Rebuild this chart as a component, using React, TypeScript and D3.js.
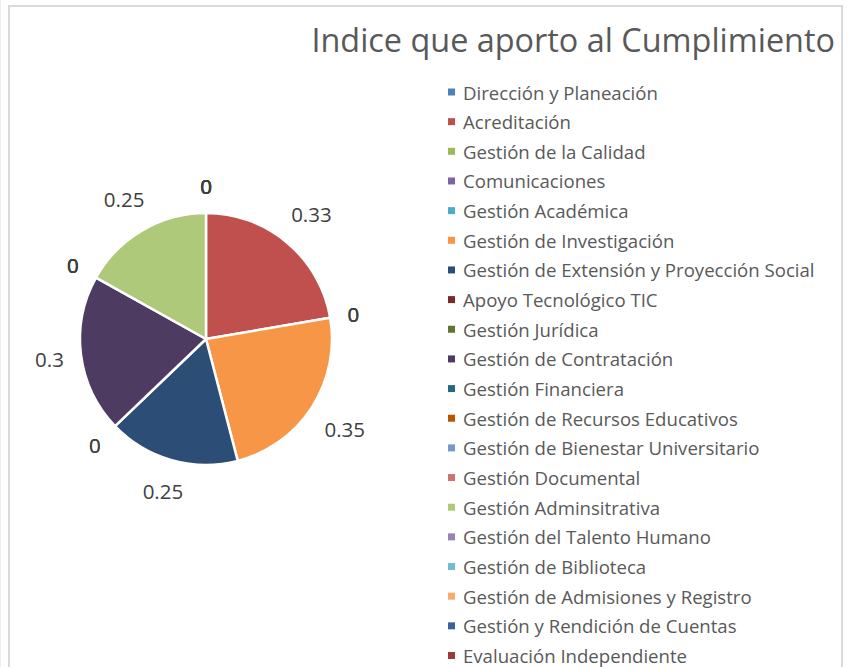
import React from 'react';
import * as d3 from 'd3';

const title = 'Indice que aporto al Cumplimiento';

const categories = [
  'Dirección y Planeación',
  'Acreditación',
  'Gestión de la Calidad',
  'Comunicaciones',
  'Gestión Académica',
  'Gestión de Investigación',
  'Gestión de Extensión y Proyección Social',
  'Apoyo Tecnológico TIC',
  'Gestión Jurídica',
  'Gestión de Contratación',
  'Gestión Financiera',
  'Gestión de Recursos Educativos',
  'Gestión de Bienestar Universitario',
  'Gestión Documental',
  'Gestión Adminsitrativa',
  'Gestión del Talento Humano',
  'Gestión de Biblioteca',
  'Gestión de Admisiones y Registro',
  'Gestión y Rendición de Cuentas',
  'Evaluación Independiente',
];

const values = [0, 0.33, 0, 0, 0, 0.35, 0.25, 0, 0, 0.3, 0, 0, 0, 0, 0.25, 0, 0, 0, 0, 0];

const colors = [
  '#4F81BD', '#C0504D', '#9BBB59', '#8064A2', '#4BACC6', '#F79646',
  '#2C4D75', '#772C2A', '#5F7530', '#4D3B62', '#276A7C', '#B65708',
  '#729ACA', '#CD7371', '#AFC97A', '#9983B5', '#6FBDD1', '#F9AB6B',
  '#3A6397', '#9B3B38',
];

const W = 848;
const H = 667;
const FONT = '"Open Sans", sans-serif';
const TEXT = '#595959';

export default function App() {
  const cx = 206;
  const cy = 339;
  const r = 126;

  const data = categories.map((name, i) => ({ name, value: values[i], color: colors[i] }));

  const pie = d3.pie<{ name: string; value: number; color: string }>()
    .sort(null)
    .value(d => d.value);
  const arcs = pie(data);

  const arc = d3.arc<d3.PieArcDatum<any>>()
    .innerRadius(0)
    .outerRadius(r);

  const labelFont = 20.5;
  const textWidth = (s: string) =>
    s.split('').reduce((w, c) => w + (c === '.' ? 0.27 : 0.572) * labelFont, 0);

  // labels sit just outside the edge, at the middle angle of each slice
  const labels = arcs.map(a => {
    const ang = (a.startAngle + a.endAngle) / 2;
    const txt = String(a.data.value);
    const hw = textWidth(txt) / 2;
    const hh = 11;
    const dist = r + 16 + Math.abs(Math.sin(ang)) * hw + Math.abs(Math.cos(ang)) * hh;
    return { txt, x: cx + Math.sin(ang) * dist, y: cy - Math.cos(ang) * dist };
  });

  const legendY = d3.scaleLinear().domain([0, categories.length - 1]).range([92, 655.5]);

  return (
    <svg width={W} height={H} style={{ position: 'absolute', left: 0, top: 0, background: '#fff' }}>
      <line x1={0.5} x2={0.5} y1={0} y2={H} stroke="#eeeeee" strokeWidth={1} />
      <rect x={9} y={6} width={833} height={H + 20} fill="#fff" stroke="#d9d9d9" strokeWidth={2} />

      <text x={835} y={52} textAnchor="end" fontFamily={FONT} fontSize={32.4} fill={TEXT}>
        {title}
      </text>

      <g transform={`translate(${cx},${cy})`}>
        {arcs.filter(a => a.data.value > 0).map(a => (
          <path key={a.data.name} d={arc(a) || ''} fill={a.data.color} stroke="#fff" strokeWidth={2.5} strokeLinejoin="round" />
        ))}
      </g>

      <g fontFamily={FONT} fontSize={labelFont} fill="#404040">
        {labels.map((l, i) => (
          <text key={i} x={l.x} y={l.y} textAnchor="middle" dominantBaseline="central">
            {l.txt}
          </text>
        ))}
      </g>

      <g fontFamily={FONT} fontSize={18.6} fill={TEXT}>
        {data.map((d, i) => (
          <g key={d.name} transform={`translate(448,${legendY(i)})`}>
            <rect x={0} y={-3.5} width={7} height={7} fill={d.color} />
            <text x={15} y={0} dominantBaseline="central">{d.name}</text>
          </g>
        ))}
      </g>
    </svg>
  );
}
